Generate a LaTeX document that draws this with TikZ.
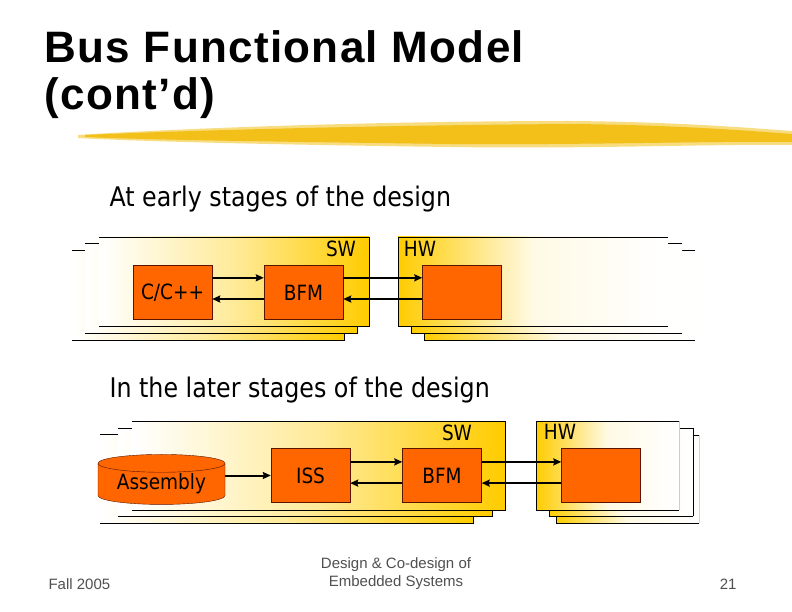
\documentclass[tikz,border=0pt]{standalone}
\usepackage{fontspec}
\setmainfont{Liberation Sans}
\newfontfamily\tahoma[FakeStretch=0.88]{DejaVu Sans}
\usetikzlibrary{calc}
\usetikzlibrary{arrows.meta}
\usetikzlibrary{shapes.geometric}
\definecolor{gold}{RGB}{255,204,0}
\definecolor{boxorange}{RGB}{255,102,0}
\definecolor{boxline}{RGB}{90,20,0}
\definecolor{footgray}{RGB}{80,80,80}
\definecolor{brush}{RGB}{242,192,24}
\tikzset{
  blk/.style={draw=boxline, fill=boxorange, minimum width=79pt, minimum height=54pt, inner sep=0pt, font=\tahoma\fontsize{21}{21}\selectfont},
  dbase/.style={cylinder, shape border rotate=90, aspect=0.2, draw=boxline, fill=boxorange, minimum width=127pt, minimum height=50pt, inner sep=0pt, font=\tahoma\fontsize{21}{21}\selectfont},
  swshade/.style={left color=white, right color=gold, middle color=gold!40},
  hwshade/.style={left color=gold, right color=white, middle color=gold!10},
  tag/.style={font=\tahoma\fontsize{21}{21}\selectfont},
  bus/.style={line width=2pt, ->, >={Stealth[length=8pt,width=7pt,inset=1pt]}}
}
\def\swlayer#1#2#3#4{% 左端なしの段
  \fill[swshade] (#1,#2) rectangle (#3,#4);
  \draw[thick] (#1,#2) -- (#3,#2) -- (#3,#4) -- (#1,#4);}
\def\hwlayer#1#2#3#4{% 右端なしの段
  \fill[hwshade] (#1,#2) rectangle (#3,#4);
  \draw[thick] (#3,#2) -- (#1,#2) -- (#1,#4) -- (#3,#4);}

\begin{document}
\begin{tikzpicture}[x=1pt,y=-1pt]

  \fill[white] (0,0) rectangle (792,612); %背景
  \useasboundingbox (0,0) rectangle (792,612);

  % タイトル
  \node[anchor=base west, font=\bfseries\fontsize{44}{44}\selectfont\addfontfeature{LetterSpace=3}] (title) at (41,63) {Bus Functional Model};
  \node[anchor=base west, font=\bfseries\fontsize{44}{44}\selectfont\addfontfeature{LetterSpace=3}] (title2) at (41,110) {(cont’d)};
  \fill[brush, opacity=0.55] (78,135) .. controls (220,126) and (420,121) .. (570,121) .. controls (680,122) and (750,128) .. (792,131) -- (792,145) .. controls (700,144) and (600,149) .. (450,147) .. controls (300,145) and (150,142) .. (78,138) -- cycle; %筆跡
  \fill[brush] (85,135) .. controls (220,129) and (420,125) .. (570,124) .. controls (680,125) and (750,131) .. (792,134) -- (792,142) .. controls (700,141) and (600,145) .. (450,144) .. controls (300,142) and (150,140) .. (85,137) -- cycle;

  % 前半
  \node[anchor=base west, font=\tahoma\fontsize{27}{27}\selectfont] (early) at (106,207) {At early stages of the design};

  \swlayer{72}{250}{344}{340} %SW奥
  \swlayer{85}{243}{357}{333}
  \swlayer{99}{237}{369}{326} %SW手前
  \hwlayer{424}{250}{695}{340} %HW奥
  \hwlayer{411}{243}{682}{333}
  \hwlayer{398}{237}{668}{326} %HW手前

  \node[tag] (swA) at (341,249) {SW};
  \node[tag] (hwA) at (420,249) {HW};

  \node[blk] (cpp) at (172.5,292.5) {C/C++};
  \node[blk] (bfmA) at (303.5,292.5) {BFM};
  \node[blk] (hwboxA) at (462,292.5) {};

  \draw[bus] ($(cpp.north east)!.23!(cpp.south east)$) -- ($(bfmA.north west)!.23!(bfmA.south west)$);
  \draw[bus] ($(bfmA.north west)!.62!(bfmA.south west)$) -- ($(cpp.north east)!.62!(cpp.south east)$);
  \draw[bus] ($(bfmA.north east)!.23!(bfmA.south east)$) -- ($(hwboxA.north west)!.23!(hwboxA.south west)$);
  \draw[bus] ($(hwboxA.north west)!.62!(hwboxA.south west)$) -- ($(bfmA.north east)!.62!(bfmA.south east)$);

  % 後半
  \node[anchor=base west, font=\tahoma\fontsize{27}{27}\selectfont] (later) at (106,397) {In the later stages of the design};

  \swlayer{100}{434}{473}{523} %SW奥
  \swlayer{118}{428}{492}{516}
  \swlayer{132}{421}{505}{510} %SW手前
  \hwlayer{556}{435}{699}{523} %HW奥
  \draw[gold!70, thick] (699,435) -- (699,523);
  \hwlayer{549}{428}{693}{516}
  \draw[thick] (693,428) -- (693,516);
  \hwlayer{536}{421}{679}{510} %HW手前
  \draw[gold!40!gray!50, thick] (679,421) -- (679,510);

  \node[tag] (swB) at (457,433) {SW};
  \node[tag] (hwB) at (560,432) {HW};

  \node[dbase] (asm) at (161.5,484) {\raisebox{-4pt}{Assembly}};
  \node[blk] (iss) at (310.5,475.5) {ISS};
  \node[blk] (bfmB) at (442,475.5) {BFM};
  \node[blk] (hwboxB) at (601,475.5) {};

  \draw[bus] (asm.east |- iss.west) -- (iss.west);
  \draw[bus] ($(iss.north east)!.25!(iss.south east)$) -- ($(bfmB.north west)!.25!(bfmB.south west)$);
  \draw[bus] ($(bfmB.north west)!.64!(bfmB.south west)$) -- ($(iss.north east)!.64!(iss.south east)$);
  \draw[bus] ($(bfmB.north east)!.25!(bfmB.south east)$) -- ($(hwboxB.north west)!.25!(hwboxB.south west)$);
  \draw[bus] ($(hwboxB.north west)!.64!(hwboxB.south west)$) -- ($(bfmB.north east)!.64!(bfmB.south east)$);

  % フッタ
  \node[anchor=base west, text=footgray, font=\fontsize{15}{15}\selectfont] (fall) at (45,589) {Fall 2005};
  \node[align=center, text=footgray, font=\fontsize{15}{18}\selectfont] (course) at (396,574) {Design \& Co-design of\\Embedded Systems};
  \node[anchor=base east, text=footgray, font=\fontsize{15}{15}\selectfont] (page) at (740,589) {21};

\end{tikzpicture}
\end{document}
